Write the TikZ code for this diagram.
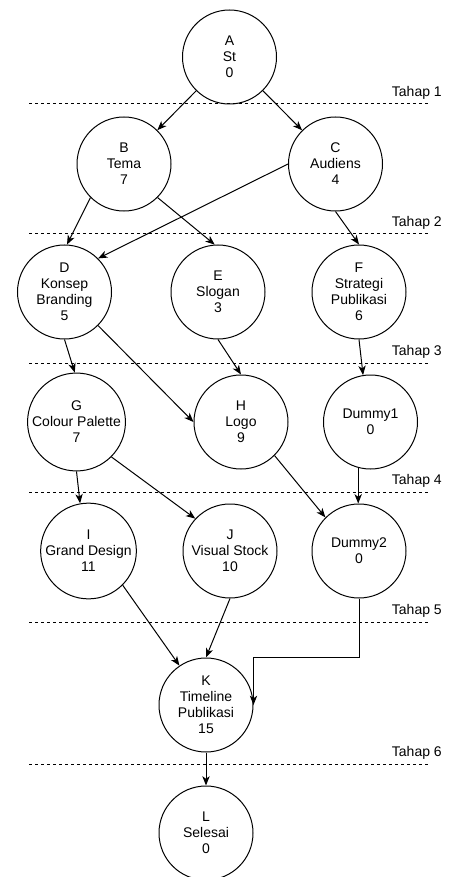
\documentclass[tikz,border=0pt]{standalone}
\usepackage{fontspec}
\setmainfont{Liberation Sans}
\usetikzlibrary{arrows.meta}
\begin{document}
\begin{tikzpicture}[x=0.75pt,y=-0.75pt,
  ev/.style={circle,draw,line width=0.75pt,minimum size=70.5pt,inner sep=0pt,align=center,
    font=\fontsize{10.5}{12}\selectfont},
  arr/.style={line width=0.75pt,-{Stealth[length=7pt,width=5.5pt,inset=2pt]}},
  stage/.style={line width=0.75pt,dash pattern=on 2.25pt off 2.25pt},
  lbl/.style={anchor=east,inner sep=0pt,font=\fontsize{10.5}{12}\selectfont}]
\useasboundingbox (0,0) rectangle (449,877);
% stage lines
\foreach \yy/\t in {104/1,234/2,363/3,492/4,622/5,764/6}{
  \draw[stage] (29,\yy) -- (430,\yy);
  \node[lbl] (tahap\t) at (442,\yy-11) {Tahap \t};
}
% nodes
\node[ev] (A) at (229.5,57) {A\\St\\0};
\node[ev] (B) at (124,164) {B\\Tema\\7};
\node[ev] (C) at (335.5,164) {C\\Audiens\\4};
\node[ev] (D) at (64.5,292) {D\\Konsep\\Branding\\5};
\node[ev] (E) at (218,292) {E\\Slogan\\3};
\node[ev] (F) at (359,292) {F\\Strategi\\Publikasi\\6};
\node[ev] (G) at (76.5,422) {G\\Colour Palette\\7};
\node[ev] (H) at (241,422) {H\\Logo\\9};
\node[ev] (D1) at (370.5,422) {Dummy1\\0};
\node[ev] (I) at (88.5,551) {I\\Grand Design\\11};
\node[ev] (J) at (230,551) {J\\Visual Stock\\10};
\node[ev] (D2) at (359,551) {Dummy2\\0};
\node[ev] (K) at (206,705) {K\\Timeline\\Publikasi\\15};
\node[ev] (L) at (206,833) {L\\Selesai\\0};
% edges
\draw[arr] (A) -- (B);
\draw[arr] (A) -- (C);
\draw[arr] (B.225) -- (D.87);
\draw[arr] (B.-45) -- (E.94);
\draw[arr] (C.180) -- (D.45);
\draw[arr] (C.-90) -- (F.90);
\draw[arr] (D.-90) -- (G.92);
\draw[arr] (D.-45) -- (H.180);
\draw[arr] (E.-90) -- (H.90);
\draw[arr] (F.-90) -- (D1.99);
\draw[arr] (G.-90) -- (I.100);
\draw[arr] (G.-45) -- (J.137);
\draw[arr] (H.-45) -- (D2.135);
\draw[arr] (D1.255) -- (D1.255 |- D2.north);
\draw[arr] (I.-45) -- (K.124);
\draw[arr] (J.-90) -- (K.90);
\draw[arr] (D2.south) -- ++(0,59) -| (K.east);
\draw[arr] (K.south) -- (L.north);
\end{tikzpicture}
\end{document}
